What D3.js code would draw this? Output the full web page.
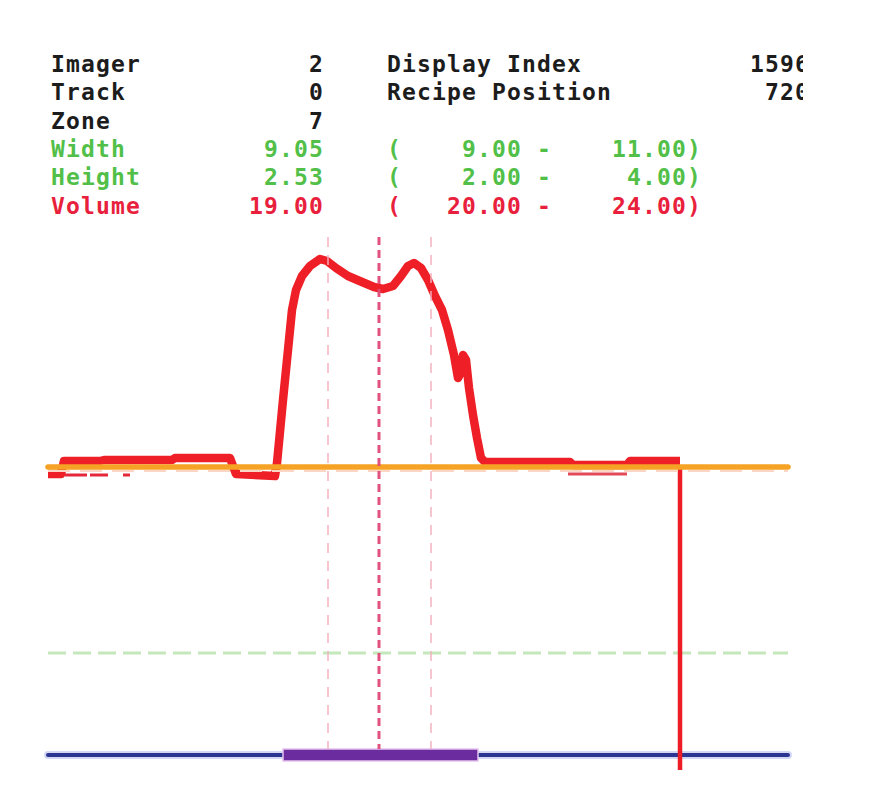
<!DOCTYPE html>
<html><head><meta charset="utf-8">
<script src="https://cdn.jsdelivr.net/npm/d3@7/dist/d3.min.js"></script>
<style>
html,body{margin:0;padding:0;background:#fff;}
text{font-family:"DejaVu Sans Mono",monospace;font-weight:bold;font-size:23px;letter-spacing:1.15px;white-space:pre;}
</style></head>
<body><svg id="c" width="879" height="810"></svg>
<script>
// ---- data ----
const rowLabels = ["Imager","Track","Zone","Width","Height","Volume"];
const rowValues = ["2","0","7","9.05","2.53","19.00"];
const rowKinds  = ["info","info","info","ok","ok","bad"];
const rangeLow  = [null,null,null,"9.00","2.00","20.00"];
const rangeHigh = [null,null,null,"11.00","4.00","24.00"];
const rightLabels = ["Display Index","Recipe Position"];
const rightValues = ["1596","720"];

// profile: sample index, height
const profileX = [0,13,16,52,56,124,127,182,188,227,229,235,240,244,248,254,262,272,279,288,300,314,326,335,345,353,360,366,373,380,387,394,400,406,410,413,415,418,421,425,429,433,437,522,525,579,582,632];
const profileY = [-7,-7,6,6,7,7,9,9,-7,-9,4,67,117,157,177,191,201,208,206,199,191,185,180,178,181,191,201,204,199,187,171,157,137,112,89,95,112,107,79,52,29,9,5,5,2,2,6,6];
// short lower trace pieces [start,end,height]
const lowerStart = [17,42,75,520];
const lowerEnd   = [39,60,82,579];
const lowerLevel = [-8,-8,-8,-7];
const dropX = 632, dropTop = 2, dropBottom = -303;
const markerX = [280,331,383];
const markerMain = [false,true,false];
const windowStart = 235, windowEnd = 430;
const baseLevel = 0, lowLevel = -186, floorLevel = -288;

// ---- scales ----
const x = d3.scaleLinear().domain([0,740]).range([48,788]);
const y = d3.scaleLinear().domain([-303,230]).range([770,237]);
const svg = d3.select("#c");
svg.append("rect").attr("width",879).attr("height",810).attr("fill","#fff");

const col = {info:"#1c1c1c", ok:"#52c048", bad:"#e8203c"};
const cw = 15, rowY0 = 72, rowH = 28.3;

// text block
const g = svg.append("g");
rowLabels.forEach((l,i)=>{
  const yy = rowY0 + i*rowH, c = col[rowKinds[i]];
  g.append("text").attr("x",51).attr("y",yy).attr("fill",c).text(l);
  g.append("text").attr("x",324 - rowValues[i].length*cw).attr("y",yy).attr("fill",c).text(rowValues[i]);
  if(rangeLow[i]){
    const lo = rangeLow[i].padStart(8," "), hi = rangeHigh[i].padStart(9," ");
    g.append("text").attr("x",387).attr("y",yy).attr("fill",c).text("(" + lo + " -" + hi + ")");
  }
});
svg.append("clipPath").attr("id","cl").append("rect").attr("x",0).attr("y",0).attr("width",803).attr("height",810);
const gr = svg.append("g").attr("clip-path","url(#cl)");
rightLabels.forEach((l,i)=>{
  const yy = rowY0 + i*rowH;
  gr.append("text").attr("x",387).attr("y",yy).attr("fill",col.info).text(l);
  gr.append("text").attr("x",810 - rightValues[i].length*cw).attr("y",yy).attr("fill",col.info).text(rightValues[i]);
});

// green dashed level
svg.append("line").attr("x1",x(0)).attr("x2",x(740)).attr("y1",y(lowLevel)).attr("y2",y(lowLevel))
  .attr("stroke","#c4e8bc").attr("stroke-width",3).attr("stroke-dasharray","18,7");
// floor line
svg.append("line").attr("x1",x(0)).attr("x2",x(740)).attr("y1",y(floorLevel)).attr("y2",y(floorLevel))
  .attr("stroke","#d4d8f4").attr("stroke-width",8).attr("stroke-linecap","round");
svg.append("line").attr("x1",x(0)).attr("x2",x(740)).attr("y1",y(floorLevel)).attr("y2",y(floorLevel))
  .attr("stroke","#2c3592").attr("stroke-width",4).attr("stroke-linecap","round");
// window bar
svg.append("rect").attr("x",x(windowStart)).attr("width",x(windowEnd)-x(windowStart))
  .attr("y",y(floorLevel)-6).attr("height",12).attr("fill","#6a2c9e").attr("stroke","#e6c4ee").attr("stroke-width",1.5);

// lower trace pieces
lowerStart.forEach((s,i)=>{
  svg.append("line").attr("x1",x(s)).attr("x2",x(lowerEnd[i])).attr("y1",y(lowerLevel[i])).attr("y2",y(lowerLevel[i]))
    .attr("stroke", i===3?"#e24a5a":"#e4283a").attr("stroke-width",3);
});
// drop line
svg.append("line").attr("x1",x(dropX)).attr("x2",x(dropX)).attr("y1",y(dropTop)).attr("y2",y(dropBottom))
  .attr("stroke","#ee1c24").attr("stroke-width",4.5);
// profile
const line = d3.line().x((d,i)=>x(profileX[i])).y((d,i)=>y(profileY[i])).curve(d3.curveLinear);
svg.append("path").attr("d",line(profileX)).attr("fill","none").attr("stroke","#ee1f26")
  .attr("stroke-width",8.5).attr("stroke-linejoin","round").attr("stroke-linecap","butt");

// baseline
svg.append("line").attr("x1",x(0)).attr("x2",x(740)).attr("y1",y(baseLevel)).attr("y2",y(baseLevel))
  .attr("stroke","#f6a325").attr("stroke-width",5.5).attr("stroke-linecap","round");
svg.append("line").attr("x1",x(0)).attr("x2",x(740)).attr("y1",y(baseLevel)+4).attr("y2",y(baseLevel)+4)
  .attr("stroke","#fbd6c4").attr("stroke-width",2).attr("stroke-dasharray","22,10");

// marker verticals
markerX.forEach((m,i)=>{
  svg.append("line").attr("x1",x(m)).attr("x2",x(m)).attr("y1",237).attr("y2",y(floorLevel)-6)
    .attr("stroke", markerMain[i]?"#e04a78":"#f4b0c0")
    .attr("stroke-width", markerMain[i]?3:1.6)
    .attr("stroke-dasharray", markerMain[i]?"8,5":"10,8")
    .attr("opacity", markerMain[i]?0.95:0.9);
});
</script></body></html>
